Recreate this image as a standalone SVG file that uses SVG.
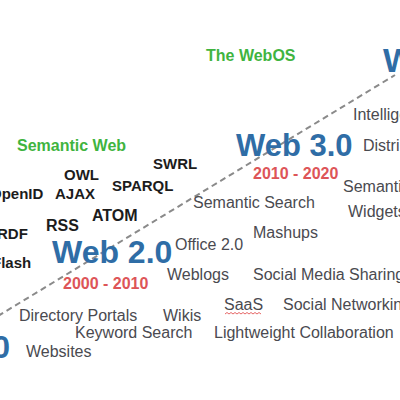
<svg xmlns="http://www.w3.org/2000/svg" width="400" height="400" viewBox="0 0 400 400">
<style>
text{font-family:"Liberation Sans",Arial,sans-serif}
.era{font-size:32px;font-weight:bold;fill:#2f6da6}
.yr{font-size:16px;font-weight:bold;fill:#dd5558}
.grn{font-size:16px;font-weight:bold;fill:#3fb43f}
.tech{font-size:15px;font-weight:bold;fill:#1c1c1c}
.app{font-size:16px;fill:#4a4a50}
.conn{stroke:#8a8a8a;stroke-width:2;stroke-dasharray:6 4;fill:none}
</style>
<rect width="400" height="400" fill="#ffffff"/>
<g id="connectors">
<line class="conn" x1="-2" y1="316" x2="395" y2="75"/>
</g>
<g id="web4"><text class="era" x="383" y="72" style="font-size:34px">Web 4.0</text></g>
<g id="webos"><text class="grn" x="206" y="61">The WebOS</text></g>
<g id="semweb"><text class="grn" x="17" y="151">Semantic Web</text></g>
<g id="web3"><text class="era" x="236" y="156" style="font-size:31px">Web 3.0</text>
<text class="yr" x="253" y="179">2010 - 2020</text></g>
<g id="web2"><text class="era" x="52" y="263">Web 2.0</text>
<text class="yr" x="63" y="289">2000 - 2010</text></g>
<g id="web1"><text class="era" x="10" y="358" text-anchor="end">Web 1.0</text></g>
<g id="swrl"><text class="tech" x="153" y="169">SWRL</text></g>
<g id="owl"><text class="tech" x="64" y="180">OWL</text></g>
<g id="sparql"><text class="tech" x="112" y="191">SPARQL</text></g>
<g id="openid"><text class="tech" x="-10" y="199">OpenID</text></g>
<g id="ajax"><text class="tech" x="55" y="199">AJAX</text></g>
<g id="atom"><text class="tech" x="92" y="221" style="font-size:16px">ATOM</text></g>
<g id="rss"><text class="tech" x="46" y="231" style="font-size:16px">RSS</text></g>
<g id="rdf"><text class="tech" x="-3" y="239">RDF</text></g>
<g id="flash"><text class="tech" x="-8" y="268">Flash</text></g>
<g id="intelligent"><text class="app" x="353" y="120">Intelligent Agents</text></g>
<g id="distributed"><text class="app" x="363" y="151">Distributed Search</text></g>
<g id="semdb"><text class="app" x="343" y="192">Semantic Databases</text></g>
<g id="widgets"><text class="app" x="348" y="217">Widgets</text></g>
<g id="semsearch"><text class="app" x="193" y="208">Semantic Search</text></g>
<g id="mashups"><text class="app" x="253" y="238">Mashups</text></g>
<g id="office"><text class="app" x="175" y="250">Office 2.0</text></g>
<g id="weblogs"><text class="app" x="167" y="280">Weblogs</text></g>
<g id="socialmedia"><text class="app" x="253" y="280">Social Media Sharing</text></g>
<g id="dirportals"><text class="app" x="19" y="321">Directory Portals</text></g>
<g id="wikis"><text class="app" x="163" y="321">Wikis</text></g>
<g id="saas"><text class="app" x="224" y="310">SaaS</text>
<path d="M225 314 l2 -1.5 l2 1.5 l2 -1.5 l2 1.5 l2 -1.5 l2 1.5 l2 -1.5 l2 1.5 l2 -1.5 l2 1.5 l2 -1.5 l2 1.5 l2 -1.5 l2 1.5 l2 -1.5 l2 1.5 l2 -1.5 l2 1.5" fill="none" stroke="#e04040" stroke-width="0.8"/></g>
<g id="socialnet"><text class="app" x="283" y="310">Social Networking</text></g>
<g id="keyword"><text class="app" x="75" y="338">Keyword Search</text></g>
<g id="lightweight"><text class="app" x="214" y="338">Lightweight Collaboration</text></g>
<g id="websites"><text class="app" x="26" y="357">Websites</text></g>
</svg>
